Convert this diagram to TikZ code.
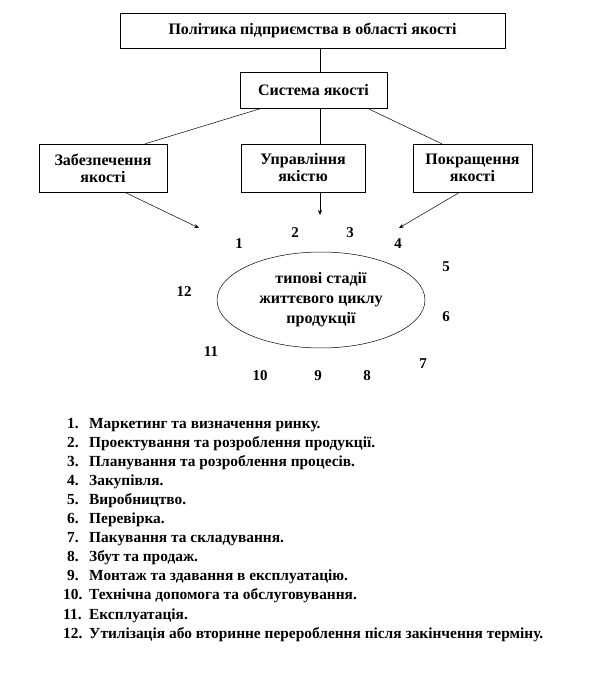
\documentclass[tikz,border=0pt]{standalone}
\usepackage{fontspec}
\setmainfont{Liberation Serif}
\usetikzlibrary{arrows.meta,calc,shapes.geometric}
\tikzset{
  box/.style={draw=black, line width=0.5pt, fill=white, align=center, inner sep=0pt, font=\bfseries\fontsize{16}{17}\selectfont},
  conn/.style={draw=black, line width=0.5pt},
  arr/.style={conn, -{Stealth[length=5pt,width=4pt]}},
  num/.style={font=\bfseries\fontsize{15}{16}\selectfont, inner sep=0pt},
  item/.style={font=\bfseries\fontsize{15.4}{16}\selectfont, inner sep=0pt, anchor=base west}
}
\begin{document}
\begin{tikzpicture}[x=1pt,y=-1pt]
\useasboundingbox (0,0) rectangle (608,684);
\node[box, minimum width=385pt, minimum height=35pt] (pol) at (312.5,30.5) {Політика підприємства  в області якості};
\node[box, minimum width=147pt, minimum height=36pt] (sys) at (313.5,90) {Система якості};
\node[box, minimum width=128pt, minimum height=48pt] (zab) at (103,168) {Забезпечення\\якості};
\node[box, minimum width=124pt, minimum height=48pt] (upr) at (303,168) {Управління\\якістю};
\node[box, minimum width=119pt, minimum height=48pt] (pok) at (472.5,168) {Покращення\\якості};
\node[draw=black, line width=0.5pt, ellipse, minimum width=208pt, minimum height=96pt, inner sep=0pt] (ell) at (321,300) {};
\node[align=center, font=\bfseries\fontsize{16}{20}\selectfont] (etxt) at (321,300) {типові стадії\\життєвого циклу\\продукції};

\draw[conn] (pol.south -| 320,0) -- (sys.north -| 320,0);
\draw[conn] ([xshift=22pt]sys.south west) -- ([xshift=-22pt]zab.north east);
\draw[conn] (sys.south -| 320,0) -- (upr.north -| 320,0);
\draw[conn] ([xshift=-20pt]sys.south east) -- ([xshift=29pt]pok.north west);

\coordinate (t1) at (199,228);
\coordinate (t2) at (320,215);
\coordinate (t3) at (399,228);
\draw[arr] ([xshift=86pt]zab.south west) -- (t1);
\draw[arr] (upr.south -| t2) -- (t2);
\draw[arr] ([xshift=47pt]pok.south west) -- (t3);

\node[num] (n1) at (239,244) {1};
\node[num] (n2) at (295,233) {2};
\node[num] (n3) at (350,233) {3};
\node[num] (n4) at (398,244) {4};
\node[num] (n5) at (446,267) {5};
\node[num] (n6) at (446,317) {6};
\node[num] (n7) at (423,364) {7};
\node[num] (n8) at (367,376) {8};
\node[num] (n9) at (318,376) {9};
\node[num] (n10) at (260,376) {10};
\node[num] (n11) at (211,352) {11};
\node[num] (n12) at (184,292) {12};

\foreach \i/\t/\xx [count=\k] in {
 1./Маркетинг  та визначення ринку./67,
 2./Проектування  та розроблення продукції./67,
 3./Планування та розроблення процесів./67,
 4./Закупівля./67,
 5./Виробництво./67,
 6./Перевірка./67,
 7./Пакування  та складування./67,
 8./Збут та продаж./67,
 9./Монтаж та здавання в експлуатацію./67,
 10./Технічна  допомога та обслуговування./63,
 11./Експлуатація./63,
 12./Утилізація  або вторинне перероблення після  закінчення  терміну./63}
{
  \pgfmathsetmacro{\yy}{428+(\k-1)*19.1}
  \node[item] (l\k) at (\xx,\yy) {\i};
  \node[item] (m\k) at (89,\yy) {\t};
}
\end{tikzpicture}
\end{document}
